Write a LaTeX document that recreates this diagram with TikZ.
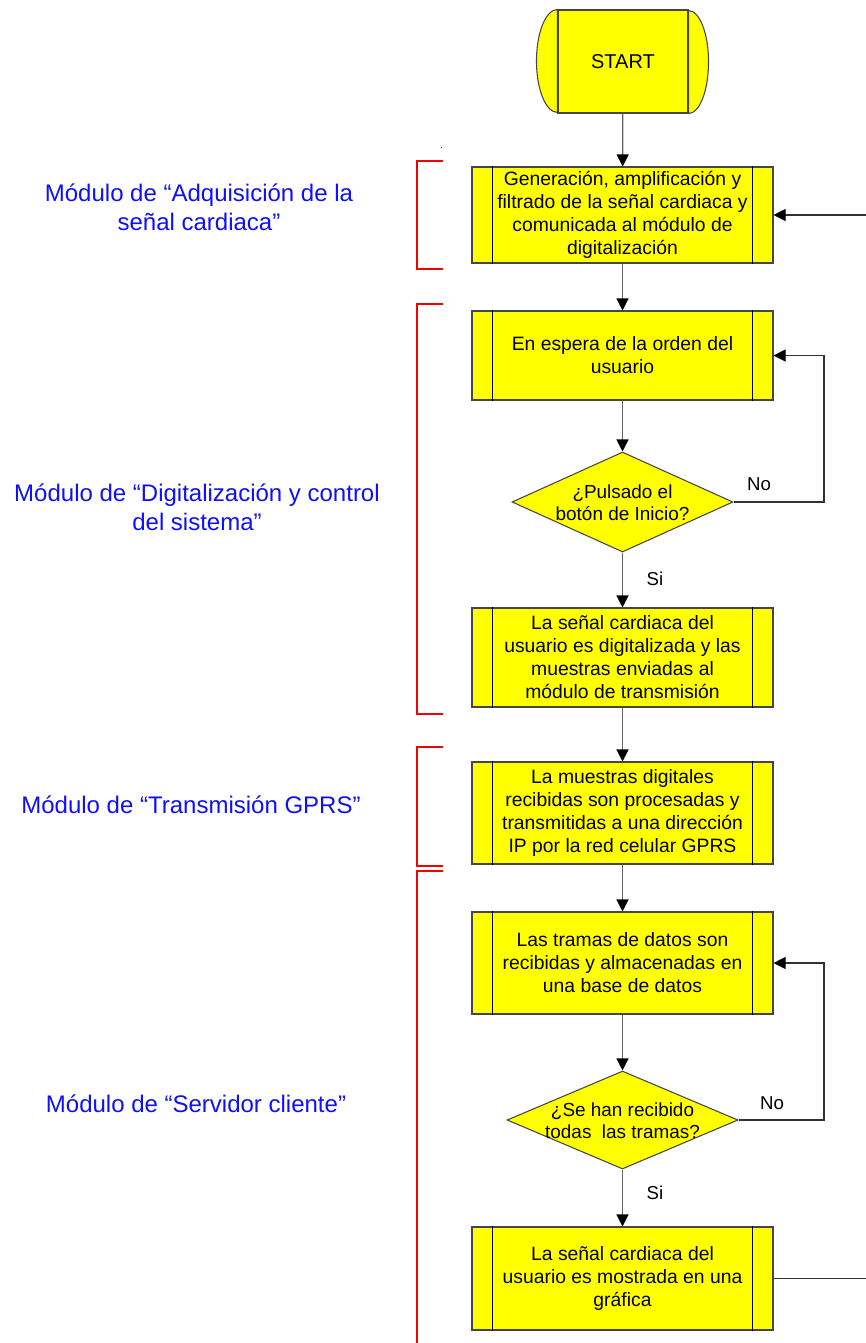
\documentclass[tikz,border=0pt]{standalone}
\usepackage{fontspec}
\setmainfont{Liberation Sans}
\usetikzlibrary{shapes.geometric,arrows.meta,calc}
\definecolor{boxline}{RGB}{70,70,70}
\definecolor{conn}{RGB}{100,100,100}
\definecolor{fb}{RGB}{50,50,50}
\definecolor{modblue}{RGB}{15,15,250}
\definecolor{brk}{RGB}{245,0,0}
\definecolor{ylw}{RGB}{255,255,0}
\tikzset{
  proc/.style={draw=boxline, fill=ylw, rectangle, minimum width=225.75pt, inner sep=0pt,
    align=center, font=\fontsize{14.5}{17.25}\selectfont, line width=0.8pt},
  dec/.style={draw=boxline, fill=ylw, diamond, inner sep=0pt, line width=0.8pt},
  dectext/.style={align=center, font=\fontsize{14.2}{16.5}\selectfont, inner sep=0pt},
  modlabel/.style={align=center, text=modblue, font=\fontsize{18}{21.75}\selectfont, inner sep=0pt},
  yesno/.style={font=\fontsize{14}{16}\selectfont, inner sep=0pt},
  conn/.style={draw=conn, line width=0.9pt, -{Triangle[length=9pt,width=9pt,fill=black,color=black]}},
  fbline/.style={draw=fb, line width=0.8pt},
  fbarrow/.style={draw=fb, line width=0.8pt, -{Triangle[length=9pt,width=9pt,fill=black,color=black]}},
  bracket/.style={draw=brk, line width=1.7pt}
}
\begin{document}
\begin{tikzpicture}[x=0.75pt,y=-0.75pt]
\useasboundingbox (0,0) rectangle (866,1343);

% start terminal
\node[draw=boxline, fill=ylw, rectangle, minimum width=97.5pt, minimum height=77.25pt, inner sep=0pt,
      line width=0.8pt, font=\fontsize{15}{17}\selectfont] (start) at (623,61.5) {START};
\draw[draw=boxline, fill=ylw, line width=0.8pt] (start.north west) arc[start angle=90, end angle=270, x radius=15.75pt, y radius=38.625pt] -- cycle;
\draw[draw=boxline, fill=ylw, line width=0.8pt] (start.south east) arc[start angle=-90, end angle=90, x radius=15pt, y radius=38.625pt] -- cycle;

% process boxes
\node[proc, minimum height=72pt] (p1) at (622.5,215) {Generación, amplificación y\\filtrado de la señal cardiaca y\\comunicada al módulo de\\digitalización};
\node[proc, minimum height=66.75pt] (p2) at (622.5,355.5) {En espera de la orden del\\usuario};
\node[dec, minimum width=165.75pt, minimum height=75pt] (d1) at (622.5,502) {};
\node[dectext] (d1t) at (622.5,502.5) {¿Pulsado el\\botón de Inicio?};
\node[proc, minimum height=74.25pt] (p3) at (622.5,657.5) {La señal cardiaca del\\usuario es digitalizada y las\\muestras enviadas al\\módulo de transmisión};
\node[proc, minimum height=76.5pt] (p4) at (622.5,813) {La muestras digitales\\recibidas son procesadas y\\transmitidas a una dirección\\IP por la red celular GPRS};
\node[proc, minimum height=76.5pt] (p5) at (622.5,963) {Las tramas de datos son\\recibidas y almacenadas en\\una base de datos};
\node[dec, minimum width=173.25pt, minimum height=73.5pt] (d2) at (622.5,1120) {};
\node[dectext] (d2t) at (622.5,1121) {¿Se han recibido\\todas\ \ las tramas?};
\node[proc, minimum height=77.25pt] (p6) at (622.5,1278.5) {La señal cardiaca del\\usuario es mostrada en una\\gráfica};

% inner vertical lines of predefined-process boxes
\foreach \n in {p1,p2,p3,p4,p5,p6}{
  \draw[black, line width=0.7pt] ([xshift=15.75pt]\n.north west) -- ([xshift=15.75pt]\n.south west)
                                 ([xshift=-15.75pt]\n.north east) -- ([xshift=-15.75pt]\n.south east);
}

% main connectors
\draw[conn] (start) -- (p1);
\draw[conn] (p1) -- (p2);
\draw[conn] (p2) -- (d1);
\draw[conn] (d1) -- (p3);
\draw[conn] (p3) -- (p4);
\draw[conn] (p4) -- (p5);
\draw[conn] (p5) -- (d2);
\draw[conn] (d2) -- (p6);

% labels Si / No
\node[yesno] (si1) at (655,579) {Si};
\node[yesno] (si2) at (655,1193) {Si};
\node[yesno] (no1) at (759,484) {No};
\node[yesno] (no2) at (772,1103) {No};

% feedback loops
\coordinate (l1a) at (824,502);
\coordinate (l1b) at (824,355.5);
\draw[fbarrow] (d1.east) -- (l1a) -- (l1b) -- (p2.east);
\coordinate (l2a) at (824,1120);
\coordinate (l2b) at (824,963);
\draw[fbarrow] (d2.east) -- (l2a) -- (l2b) -- (p5.east);

% return line (runs off the right edge)
\coordinate (r1) at (866,1278.5);
\coordinate (r2) at (866,215);
\draw[fbline] (p6.east) -- (r1);
\draw[fbarrow] (r2) -- (p1.east);

% red brackets
\draw[bracket] (443,161) -- (417,161) -- (417,269) -- (443,269);
\draw[bracket] (443,304) -- (417,304) -- (417,714) -- (443,714);
\draw[bracket] (443,747) -- (417,747) -- (417,866) -- (443,866);
\draw[bracket] (443,871) -- (417,871) -- (417,1343);

% stray dot
\fill[black!70] (440.5,146.5) rectangle (441.5,147.5);

% module labels
\node[modlabel] (m1) at (199,207.5) {Módulo de “Adquisición de la\\señal cardiaca”};
\node[modlabel] (m2) at (197,507.5) {Módulo de “Digitalización y control\\del sistema”};
\node[modlabel] (m3) at (191,805) {Módulo de “Transmisión GPRS”};
\node[modlabel] (m4) at (196,1104) {Módulo de “Servidor cliente”};
\end{tikzpicture}
\end{document}
